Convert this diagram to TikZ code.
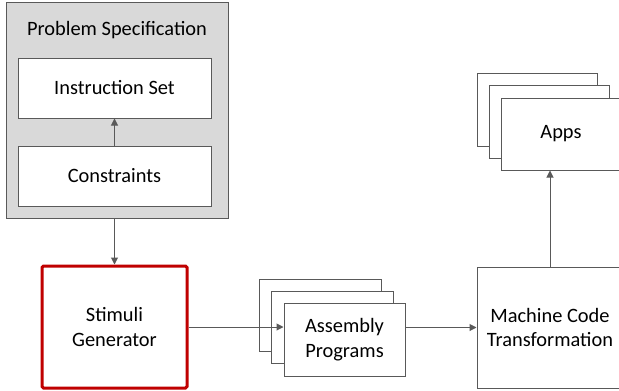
\documentclass[tikz,border=0pt]{standalone}
\usepackage{fontspec}
\setmainfont{Carlito}
\usetikzlibrary{arrows.meta}
\definecolor{lineGray}{HTML}{595959}
\definecolor{specGray}{HTML}{D9D9D9}
\definecolor{stimRed}{HTML}{C00000}

\begin{document}
\begin{tikzpicture}
[x=1pt,y=-1pt,
  boxDecorate/.style={shape=rectangle,draw=lineGray,fill=white,line width=1pt,inner sep=0pt,align=center},%
  arrowDecorate/.style={draw=lineGray,line width=1pt,-{Triangle[width=7pt,length=7pt]}}]
\fontsize{20.4}{24.5}\selectfont
\useasboundingbox (0,0) rectangle (619,391);
\clip (0,0) rectangle (619,391);
%% problem specification
\node (spec) at (117,110) [boxDecorate,fill=specGray,minimum width=222pt,minimum height=216pt] {};
\node (specTitle) at (117,30) {Problem Specification};
\node (iset) at (114.5,88) [boxDecorate,minimum width=193pt,minimum height=60pt] {Instruction Set};
\node (cons) at (114.5,176) [boxDecorate,minimum width=193pt,minimum height=60pt] {Constraints};
%% generator
\node (stim) at (114.5,327) [boxDecorate,draw=stimRed,line width=3pt,rounded corners=1.5pt,minimum width=145pt,minimum height=122pt] {Stimuli\\Generator};
%% stacked boxes
\foreach \nodename/\x/\y in {asmBack/320/315, asmMid/332/327}
{
  \node (\nodename) at (\x,\y) [boxDecorate,minimum width=122pt,minimum height=72pt] {};
}
\node (asm) at (344.5,339.5) [boxDecorate,minimum width=121pt,minimum height=73pt] {Assembly\\Programs};
\foreach \nodename/\x/\y in {appsBack/537/110, appsMid/549.5/122}
{
  \node (\nodename) at (\x,\y) [boxDecorate,minimum width=120pt,minimum height=73pt] {};
}
\node (apps) at (561,134) [boxDecorate,minimum width=120pt,minimum height=72pt] {Apps};
\node (mct) at (550,327.5) [boxDecorate,minimum width=146pt,minimum height=121pt] {Machine Code\\Transformation};
%% edges
\draw[arrowDecorate] (cons) -- (iset);
\draw[arrowDecorate] (stim.north |- spec.south) -- (stim.north);
\draw[arrowDecorate] (stim.east) -- (stim.east -| asm.west);
\draw[arrowDecorate] (mct.west -| asm.east) -- (mct.west);
\draw[arrowDecorate] (mct.north) -- (mct.north |- apps.south);
\end{tikzpicture}
\end{document}
